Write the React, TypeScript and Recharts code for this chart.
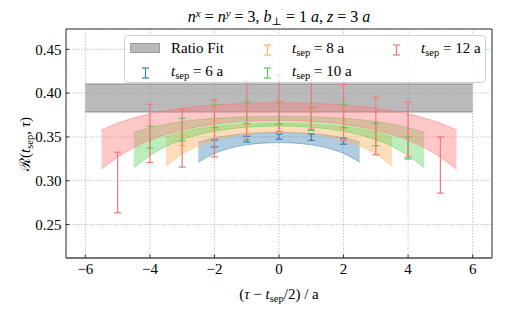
import React from "react";
import {
	Area,
	CartesianGrid,
	ComposedChart,
	ErrorBar,
	Legend,
	Scatter,
	XAxis,
	YAxis,
} from "recharts";

const FONT = "'Liberation Serif', 'Times New Roman', 'DejaVu Serif', serif";

const xTicks = [-6, -4, -2, 0, 2, 4, 6];
const yTicks = [0.25, 0.3, 0.35, 0.4, 0.45];

// ratio fit band
const fitTau = [-6, 6];
const fitLow = [0.3785, 0.3785];
const fitHigh = [0.4104, 0.4104];

// data points, x = tau - tsep/2
const tau6 = [-2, -1, 0, 1, 2];
const val6 = [0.3426, 0.3475, 0.3503, 0.3497, 0.3451];
const err6 = [0.004, 0.0033, 0.0029, 0.0037, 0.0034];

const tau8 = [-3, -2, -1, 0, 1, 2, 3];
const val8 = [0.346, 0.3635, 0.359, 0.36, 0.362, 0.3635, 0.3535];
const err8 = [0.006, 0.005, 0.005, 0.005, 0.005, 0.005, 0.0047];

const tau10 = [-4, -3, -2, -1, 0, 1, 2, 3, 4];
const val10 = [0.3498, 0.3583, 0.3736, 0.3776, 0.3774, 0.3706, 0.374, 0.3528, 0.3372];
const err10 = [0.0127, 0.013, 0.013, 0.0124, 0.013, 0.013, 0.0134, 0.0128, 0.0125];

const tau12 = [-5, -4, -3, -2, -1, 0, 1, 2, 3, 4, 5];
const val12 = [0.298, 0.354, 0.3485, 0.3597, 0.38, 0.3885, 0.3896, 0.3777, 0.3625, 0.3584, 0.3179];
const err12 = [0.0345, 0.0333, 0.033, 0.0325, 0.033, 0.0325, 0.0308, 0.032, 0.0328, 0.0315, 0.0321];

// fit bands
const band6Tau = [-2.5, -2, -1.5, -1, -0.5, 0, 0.5, 1, 1.5, 2, 2.5];
const band6Low = [0.3212, 0.3311, 0.3373, 0.341, 0.3429, 0.3435, 0.3429, 0.341, 0.3373, 0.3311, 0.3212];
const band6High = [0.3443, 0.349, 0.352, 0.3538, 0.3547, 0.355, 0.3547, 0.3538, 0.352, 0.349, 0.3443];

const band8Tau = [-3.5, -3, -2.5, -2, -1.5, -1, -0.5, 0, 0.5, 1, 1.5, 2, 2.5, 3, 3.5];
const band8Low = [0.3169, 0.3305, 0.3398, 0.3463, 0.3507, 0.3535, 0.355, 0.3555, 0.355, 0.3535, 0.3507, 0.3463, 0.3398, 0.3305, 0.3169];
const band8High = [0.3503, 0.3556, 0.3593, 0.3619, 0.3636, 0.3647, 0.3653, 0.3655, 0.3653, 0.3647, 0.3636, 0.3619, 0.3593, 0.3556, 0.3503];

const band10Tau = [-4.5, -4, -3.5, -3, -2.5, -2, -1.5, -1, -0.5, 0, 0.5, 1, 1.5, 2, 2.5, 3, 3.5, 4, 4.5];
const band10Low = [0.315, 0.3288, 0.3393, 0.3469, 0.3525, 0.3565, 0.3593, 0.3611, 0.3622, 0.3625, 0.3622, 0.3611, 0.3593, 0.3565, 0.3525, 0.3469, 0.3393, 0.3288, 0.315];
const band10High = [0.3553, 0.3606, 0.3646, 0.3675, 0.3697, 0.3712, 0.3723, 0.373, 0.3734, 0.3735, 0.3734, 0.373, 0.3723, 0.3712, 0.3697, 0.3675, 0.3646, 0.3606, 0.3553];

const band12Tau = [-5.5, -5, -4.5, -4, -3.5, -3, -2.5, -2, -1.5, -1, -0.5, 0, 0.5, 1, 1.5, 2, 2.5, 3, 3.5, 4, 4.5, 5, 5.5];
const band12Low = [0.3132, 0.3269, 0.3378, 0.3464, 0.3529, 0.3579, 0.3617, 0.3646, 0.3666, 0.368, 0.3687, 0.369, 0.3687, 0.368, 0.3666, 0.3646, 0.3617, 0.3579, 0.3529, 0.3464, 0.3378, 0.3269, 0.3132];
const band12High = [0.358, 0.3656, 0.3717, 0.3764, 0.38, 0.3828, 0.385, 0.3865, 0.3877, 0.3884, 0.3889, 0.389, 0.3889, 0.3884, 0.3877, 0.3865, 0.385, 0.3828, 0.38, 0.3764, 0.3717, 0.3656, 0.358];

const colors = {
	fit: "#8c8c8c",
	b6: "#4f8dbb",
	b8: "#ffb366",
	b10: "#5fd35f",
	b12: "#ff7b7b",
	e6: "#3d7eae",
	e8: "#ffb060",
	e10: "#55cc55",
	e12: "#f07878",
};

const band = (xs: number[], lo: number[], hi: number[]) =>
	xs.map((t, i) => ({ t, r: [lo[i], hi[i]] }));

const points = (xs: number[], vs: number[], es: number[]) =>
	xs.map((t, i) => ({ t, v: vs[i], e: es[i] }));

const fmtX = (v: number) => (v < 0 ? `\u2212${-v}` : `${v}`);
const fmtY = (v: number) => v.toFixed(2);

function Sep({ size = 10.5 }: { size?: number }) {
	return <sub style={{ fontSize: size, verticalAlign: "-3px" }}>sep</sub>;
}

function BarIcon({ color }: { color: string }) {
	return (
		<svg width={9} height={12}>
			<line x1={4.5} y1={1} x2={4.5} y2={11} stroke={color} strokeWidth={1.2} />
			<line x1={1} y1={1} x2={8} y2={1} stroke={color} strokeWidth={1.2} />
			<line x1={1} y1={11} x2={8} y2={11} stroke={color} strokeWidth={1.2} />
		</svg>
	);
}

function LegendBox() {
	const text: React.CSSProperties = {
		position: "absolute",
		fontSize: 15,
		lineHeight: "18px",
		whiteSpace: "nowrap",
		color: "#000",
		fontFamily: FONT,
	};
	const item = (left: number, top: number, n: number) => (
		<div style={{ ...text, left, top }}>
			<i>t</i>
			<Sep /> = {n} a
		</div>
	);
	return (
		<div
			style={{
				position: "relative",
				width: 362,
				height: 48,
				boxSizing: "border-box",
				border: "1px solid #d0d0d0",
				borderRadius: 4,
				background: "rgba(255,255,255,0.8)",
				fontFamily: FONT,
			}}
		>
			<div
				style={{
					position: "absolute",
					left: 5,
					top: 6.5,
					width: 30,
					height: 10.5,
					boxSizing: "border-box",
					background: "#bababa",
					border: "1px solid #9a9a9a",
				}}
			/>
			<div style={{ ...text, left: 46, top: 3 }}>Ratio Fit</div>
			<div style={{ position: "absolute", left: 16, top: 29 }}>
				<BarIcon color={colors.e6} />
			</div>
			{item(46, 26, 6)}
			<div style={{ position: "absolute", left: 137.5, top: 6 }}>
				<BarIcon color={colors.e8} />
			</div>
			{item(167, 3, 8)}
			<div style={{ position: "absolute", left: 137.5, top: 29 }}>
				<BarIcon color={colors.e10} />
			</div>
			{item(167, 26, 10)}
			<div style={{ position: "absolute", left: 266.5, top: 6 }}>
				<BarIcon color={colors.e12} />
			</div>
			{item(296, 3, 12)}
		</div>
	);
}

const serif = { fontFamily: FONT };

const Title = () => (
	<text x={279} y={22} textAnchor="middle" fontSize={16} style={serif} fill="#000">
		<tspan fontStyle="italic">n</tspan>
		<tspan fontStyle="italic" fontSize={11} dy={-5}>x</tspan>
		<tspan dy={5}> = </tspan>
		<tspan fontStyle="italic">n</tspan>
		<tspan fontStyle="italic" fontSize={11} dy={-5}>y</tspan>
		<tspan dy={5}> = 3, </tspan>
		<tspan fontStyle="italic">b</tspan>
		<tspan fontSize={11} dy={3}>⊥</tspan>
		<tspan dy={-3}> = 1 </tspan>
		<tspan fontStyle="italic">a</tspan>
		<tspan>, </tspan>
		<tspan fontStyle="italic">z</tspan>
		<tspan> = 3 </tspan>
		<tspan fontStyle="italic">a</tspan>
	</text>
);

const XLabel = () => (
	<text x={279} y={299} textAnchor="middle" fontSize={15} style={serif} fill="#000">
		<tspan>(</tspan>
		<tspan fontStyle="italic">τ</tspan>
		<tspan> − </tspan>
		<tspan fontStyle="italic">t</tspan>
		<tspan fontSize={10.5} dy={3}>sep</tspan>
		<tspan dy={-3}>/2) / a</tspan>
	</text>
);

const YLabel = () => (
	<text
		x={30}
		y={144}
		textAnchor="middle"
		fontSize={15}
		style={serif}
		fill="#000"
		transform="rotate(-90 30 144)"
	>
		<tspan>ℛ(</tspan>
		<tspan fontStyle="italic">t</tspan>
		<tspan fontSize={10.5} dy={3}>sep</tspan>
		<tspan dy={-3}>, </tspan>
		<tspan fontStyle="italic">τ</tspan>
		<tspan>)</tspan>
	</text>
);

const noDot = () => <g />;

export default function App() {
	const tickStyle = { fontSize: 15, fill: "#000", style: serif };
	const domainX: [number, number] = [-6.6, 6.6];
	const domainY: [number, number] = [0.2118, 0.4732];

	return (
		<div
			style={{
				position: "absolute",
				left: 0,
				top: 0,
				width: 505,
				height: 312,
				background: "#fff",
				fontFamily: FONT,
			}}
		>
			<ComposedChart
				width={505}
				height={312}
				margin={{ top: 28, right: 12, bottom: 0, left: 0 }}
				style={serif}
			>
				<CartesianGrid stroke="#b8b8b8" strokeDasharray="1.5 1.5" strokeWidth={0.8} />
				<XAxis
					dataKey="t"
					type="number"
					domain={domainX}
					ticks={xTicks}
					allowDataOverflow
					tickFormatter={fmtX}
					tick={tickStyle}
					tickSize={-3.5}
					tickMargin={9}
					tickLine={{ stroke: "#333" }}
					axisLine={{ stroke: "#777", strokeWidth: 2 }}
					height={54}
					label={XLabel}
				/>
				<XAxis
					xAxisId="top"
					orientation="top"
					type="number"
					domain={domainX}
					ticks={xTicks}
					allowDataOverflow
					tick={false}
					tickSize={-3.5}
					tickLine={{ stroke: "#333" }}
					axisLine={{ stroke: "#333" }}
					height={1}
					label={Title}
				/>
				<YAxis
					type="number"
					domain={domainY}
					ticks={yTicks}
					allowDataOverflow
					tickFormatter={fmtY}
					tick={tickStyle}
					tickSize={-3.5}
					tickMargin={8}
					tickLine={{ stroke: "#333" }}
					axisLine={{ stroke: "#333" }}
					width={66}
					label={YLabel}
				/>
				<YAxis
					yAxisId="right"
					orientation="right"
					type="number"
					domain={domainY}
					ticks={yTicks}
					allowDataOverflow
					tick={false}
					tickSize={-3.5}
					tickLine={{ stroke: "#333" }}
					axisLine={{ stroke: "#333" }}
					width={1}
				/>

				<Area
					data={band(fitTau, fitLow, fitHigh)}
					dataKey="r"
					type="linear"
					fill={colors.fit}
					fillOpacity={0.6}
					stroke="#8a8a8a"
					strokeWidth={1}
					isAnimationActive={false}
				/>
				<Area
					data={band(band6Tau, band6Low, band6High)}
					dataKey="r"
					type="monotone"
					fill={colors.b6}
					fillOpacity={0.45}
					stroke={colors.b6}
					strokeOpacity={0.7}
					strokeWidth={0.8}
					isAnimationActive={false}
				/>
				<Area
					data={band(band8Tau, band8Low, band8High)}
					dataKey="r"
					type="monotone"
					fill={colors.b8}
					fillOpacity={0.45}
					stroke={colors.b8}
					strokeOpacity={0.7}
					strokeWidth={0.8}
					isAnimationActive={false}
				/>
				<Area
					data={band(band10Tau, band10Low, band10High)}
					dataKey="r"
					type="monotone"
					fill={colors.b10}
					fillOpacity={0.42}
					stroke={colors.b10}
					strokeOpacity={0.7}
					strokeWidth={0.8}
					isAnimationActive={false}
				/>
				<Area
					data={band(band12Tau, band12Low, band12High)}
					dataKey="r"
					type="monotone"
					fill={colors.b12}
					fillOpacity={0.42}
					stroke={colors.b12}
					strokeOpacity={0.7}
					strokeWidth={0.8}
					isAnimationActive={false}
				/>

				<Scatter data={points(tau6, val6, err6)} dataKey="v" shape={noDot} isAnimationActive={false}>
					<ErrorBar dataKey="e" direction="y" width={3.5} stroke={colors.e6} strokeWidth={1.2} isAnimationActive={false} />
				</Scatter>
				<Scatter data={points(tau8, val8, err8)} dataKey="v" shape={noDot} isAnimationActive={false}>
					<ErrorBar dataKey="e" direction="y" width={3.5} stroke={colors.e8} strokeWidth={1.2} isAnimationActive={false} />
				</Scatter>
				<Scatter data={points(tau10, val10, err10)} dataKey="v" shape={noDot} isAnimationActive={false}>
					<ErrorBar dataKey="e" direction="y" width={3.5} stroke={colors.e10} strokeWidth={1.2} isAnimationActive={false} />
				</Scatter>
				<Scatter data={points(tau12, val12, err12)} dataKey="v" shape={noDot} isAnimationActive={false}>
					<ErrorBar dataKey="e" direction="y" width={3.5} stroke={colors.e12} strokeWidth={1.2} isAnimationActive={false} />
				</Scatter>

				<Legend
					verticalAlign="middle"
					align="center"
					layout="horizontal"
					content={() => <LegendBox />}
					wrapperStyle={{ position: "absolute", left: 124, top: 35, width: 362, height: 48 }}
				/>
			</ComposedChart>
		</div>
	);
}
